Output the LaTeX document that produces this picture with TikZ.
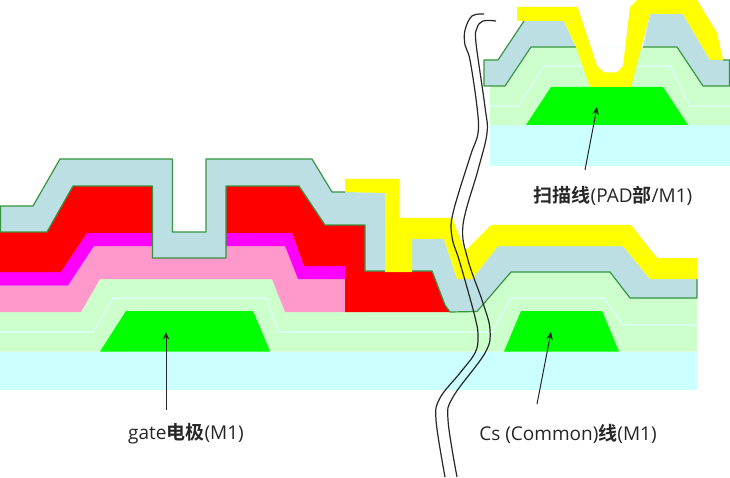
\documentclass[tikz,border=0pt]{standalone}
\usepackage{fontspec}
\setmainfont{Open Sans}
\newfontfamily\cjkbold[Scale=1.0]{Noto Sans CJK SC Bold}
\usepackage{xcolor}
\definecolor{tftcyan}{RGB}{204,255,255}
\definecolor{tftlight}{RGB}{204,255,204}
\definecolor{tftline}{RGB}{224,255,255}
\definecolor{tftgreen}{RGB}{0,255,0}
\definecolor{tftpink}{RGB}{255,153,204}
\definecolor{tftmagenta}{RGB}{255,0,255}
\definecolor{tftred}{RGB}{255,0,0}
\definecolor{tftyellow}{RGB}{255,255,0}
\definecolor{tftblue}{RGB}{187,223,227}
\definecolor{tftedge}{RGB}{56,148,64}
\definecolor{tftdark}{RGB}{38,38,38}
\usetikzlibrary{arrows.meta,positioning}

\begin{document}
\begin{tikzpicture}[
  x=1pt,y=-1pt,
  every node/.style={font=\fontsize{19}{23}\selectfont,text=tftdark,inner sep=0pt},
  layeredge/.style={draw=tftedge,line width=1.2pt,line join=round},
  paleline/.style={draw=tftline,line width=1.1pt},
  breakline/.style={draw=tftdark,line width=1.2pt},
  pointer/.style={draw=tftdark,line width=1pt,-{Stealth[length=7.5pt,width=6.5pt]}},
]
  \useasboundingbox (0,0) rectangle (730,478);

  % Main section: lower layers
  \fill[tftcyan] (0,351.5) rectangle (697,390);
  \fill[tftlight] (0,351.5) -- (0,312) -- (81,312) -- (100,279) -- (272,279) -- (285,312)
    -- (477,311.5) -- (511,272) -- (610,272) -- (630,298) -- (697,298) -- (697,351.5) -- cycle;
  \draw[paleline] (0,332) -- (93,332) -- (113,298) -- (266,298) -- (279,332) -- (492,332)
    -- (511,298) -- (604,298) -- (623,325) -- (697,325);
  \fill[tftgreen] (100,351.5) -- (126,311) -- (253,311) -- (270,351.5) -- cycle;
  \fill[tftgreen] (504,351.5) -- (521,311) -- (602,311) -- (619,351.5) -- cycle;

  % Main section: pink, magenta, red
  \fill[tftpink] (0,312) -- (0,285.5) -- (68,285.5) -- (94,246) -- (285,246) -- (298,279)
    -- (345,279) -- (345,312) -- (285,312) -- (272,279) -- (100,279) -- (81,312) -- cycle;
  \fill[tftmagenta] (0,285.5) -- (0,272) -- (61,272) -- (87,233) -- (292,233) -- (304,266)
    -- (345,266) -- (345,279) -- (298,279) -- (285,246) -- (94,246) -- (68,285.5) -- cycle;
  \fill[tftred] (0,272) -- (0,232) -- (47,232) -- (73,186) -- (152.5,186) -- (152.5,258)
    -- (226,258) -- (226,186) -- (299,186) -- (325,225) -- (365,225) -- (365,271) -- (432,271)
    -- (445,305) -- (450,312) -- (345,312) -- (345,266) -- (304,266) -- (292,233) -- (87,233)
    -- (61,272) -- cycle;

  % Main section: top layer
  \fill[tftblue] (0,232) -- (0,206) -- (33,206) -- (60,159) -- (172.5,159) -- (172.5,232)
    -- (206,232) -- (206,159) -- (312,159) -- (332,192) -- (385,192.5) -- (385,271)
    -- (412,271) -- (412,239) -- (444,239) -- (457,279) -- (472,279) -- (498,246) -- (623,246)
    -- (650,279) -- (697,279) -- (697,298) -- (630,298) -- (610,272) -- (511,272) -- (477,311.5)
    -- (450,312) -- (445,305) -- (432,271) -- (365,271) -- (365,225) -- (325,225) -- (299,186)
    -- (226,186) -- (226,258) -- (152.5,258) -- (152.5,186) -- (73,186) -- (47,232) -- cycle;
  \draw[layeredge] (345,192) -- (332,192) -- (312,159) -- (206,159) -- (206,232) -- (172.5,232)
    -- (172.5,159) -- (60,159) -- (33,206) -- (0.5,206) -- (0.5,232) -- (47,232) -- (73,186)
    -- (152.5,186) -- (152.5,258) -- (226,258) -- (226,186) -- (299,186) -- (325,225) -- (365,225)
    -- (365,271) -- (432,271) -- (445,305) -- (450,312) -- (477,311.5) -- (511,272) -- (610,272)
    -- (630,298) -- (697,298) -- (697,279);
  \fill[tftyellow] (345,179) -- (399,179) -- (399,218) -- (452,218) -- (465,251) -- (491,225)
    -- (631,225) -- (657,258) -- (697,258) -- (697,279) -- (650,279) -- (623,246) -- (498,246)
    -- (472,279) -- (457,279) -- (444,239) -- (412,239) -- (412,272) -- (385,272) -- (385,193)
    -- (345,192) -- cycle;

  % PAD section
  \fill[tftcyan] (490,125) rectangle (730,166);
  \fill[tftlight] (490,125) -- (490,86) -- (505,86) -- (531,47) -- (585,47) -- (600,78) -- (620,78)
    -- (632,47) -- (677,47) -- (703,86) -- (730,86) -- (730,125) -- cycle;
  \draw[paleline] (490,106) -- (518,106) -- (544,66) -- (590,66);
  \draw[paleline] (630,66) -- (670,66) -- (690,106) -- (730,106);
  \fill[tftgreen] (526,125) -- (551,87) -- (663,87) -- (688,125) -- cycle;
  \fill[tftblue] (484,86) -- (484,60) -- (498,60) -- (524,21) -- (564,21) -- (576,47) -- (643,47)
    -- (650,14) -- (683,14) -- (710,60) -- (730,60) -- (730,86) -- (703,86) -- (677,47)
    -- (531,47) -- (505,86) -- cycle;
  \draw[layeredge] (576,47) -- (531,47) -- (505,86) -- (484,86) -- (484,60) -- (498,60) -- (524,21);
  \draw[layeredge] (643,47) -- (677,47) -- (703,86) -- (729.5,86) -- (729.5,60) -- (723,60);
  \fill[tftyellow] (517,7) -- (577.5,7) -- (597,66) -- (604,72.5) -- (617,72.5) -- (623,66)
    -- (630,7) -- (637,0) -- (697,0) -- (717,33) -- (723,60) -- (710,60) -- (683,14) -- (650,14)
    -- (631,87) -- (590,87) -- (576,47) -- (564,21) -- (517,21) -- cycle;

  % Break lines
  \draw[breakline] plot[smooth,tension=0.6] coordinates {(484,14) (472,16) (465,30) (465,45) (470,60)
    (477,107) (478,133) (470,157) (453,213) (452,237) (460,263) (475,317) (478,337) (475,353)
    (460,373) (440,398) (436,420) (445,477)};
  \draw[breakline] plot[smooth,tension=0.6] coordinates {(496,21) (483,21) (477,28) (476,43) (485,107)
    (487,133) (478,170) (463,225) (468,260) (483,303) (490,330) (485,353) (453,397) (448,420)
    (457,477)};

  % Labels
  \node (gatelabel) at (186,434) {gate{\cjkbold 电极}(M1)};
  \node (cslabel) at (568,434) {Cs (Common){\cjkbold 线}(M1)};
  \node (padlabel) at (613,196) {{\cjkbold 扫描线}(PAD{\cjkbold 部}/M1)};

  % Arrows
  \coordinate (gatefoot) at (166,410);
  \coordinate (gatetip) at (166,332);
  \coordinate (csfoot) at (537,404);
  \coordinate (cstip) at (551,332);
  \coordinate (padfoot) at (585,170);
  \coordinate (padtip) at (597,107);
  \draw[pointer] (gatefoot) -- (gatetip);
  \draw[pointer] (csfoot) -- (cstip);
  \draw[pointer] (padfoot) -- (padtip);
\end{tikzpicture}
\end{document}
